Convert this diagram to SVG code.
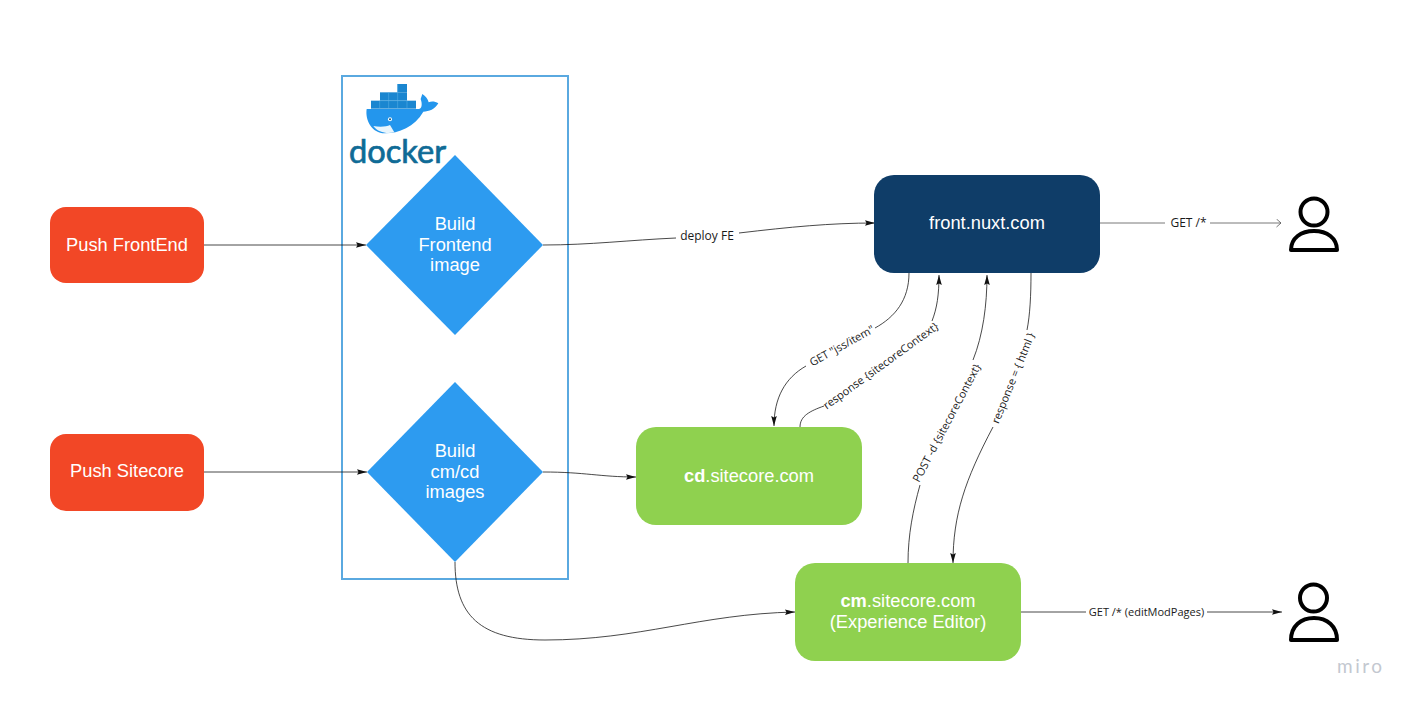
<svg xmlns="http://www.w3.org/2000/svg" width="1415" height="706" viewBox="0 0 1415 706">
<style>
.n{font-family:"Liberation Sans",Arial,sans-serif;font-size:18.300px;fill:#fff;text-anchor:middle}
.l{font-family:"Open Sans","DejaVu Sans",sans-serif;font-size:11px;fill:#1a1a1a;text-anchor:middle}
.m{font-size:12px}
.c{fill:none;stroke:#1a1a1a;stroke-width:.8}
.u{fill:none;stroke:#000;stroke-width:4}
.o{fill:#f24726}.g{fill:#8fd14f}.b{fill:#2d9bf0}
</style>
<defs>
<marker id="a" markerUnits="userSpaceOnUse" markerWidth="11" markerHeight="8" refX="10" refY="4" orient="auto"><path d="M0 1.200L10 4L0 6.800L1.500 4Z" fill="#111"/></marker>
<marker id="o" markerUnits="userSpaceOnUse" markerWidth="10" markerHeight="10" refX="5.500" refY="4" orient="auto"><path d="M1 0L5.500 4L1 8" fill="none" stroke="#555" stroke-width=".8"/></marker>
</defs>
<rect width="1415" height="706" fill="#fff"/>
<g id="docker-frame">
<rect x="342" y="76" width="226" height="503" fill="#fff" stroke="#5aa9e0" stroke-width="2"/>
</g>
<g id="docker-logo">
<g transform="translate(335 70) scale(.3333)">
<path d="M95 117L250 117C262 118 262 100 257 87L262 72C272 78 279 88 281 97C291 93 301 95 310 100C300 118 282 125 265 125C240 170 190 190 150 190C110 190 90 150 95 117Z" fill="#2396ed"/>
<path d="M115 168C135 172 155 170 165 165L178 187C155 192 130 188 115 168Z" fill="#e8f5fc"/>
<circle cx="165" cy="148" r="6" fill="#fff"/><circle cx="165" cy="148" r="3" fill="#14567a"/>
<g fill="#1a86d0">
<rect x="187" y="42" width="29" height="25"/>
<rect x="135" y="67" width="81" height="25"/>
<rect x="108" y="92" width="135" height="24"/>
</g>
<g stroke="#5fb4ea" stroke-width="1.500">
<path d="M135 92H216M161 68V116M188 42V116M216 92V116M134 92V116"/>
</g>
</g>
<text x="349" y="162.500" font-family="Lato,'Open Sans',sans-serif" font-size="32" fill="#0f6b96" stroke="#0f6b96" stroke-width=".7" textLength="97" lengthAdjust="spacingAndGlyphs">docker</text>
</g>
<g id="connectors">
<path class="c" d="M204 245H366" marker-end="url(#a)"/>
<path class="c" d="M204 472H367" marker-end="url(#a)"/>
<path class="c" d="M543 245C590 245 630 240 676 238"/>
<path class="c" d="M739 233C790 227 830 223 875 223" marker-end="url(#a)"/>
<path class="c" d="M543 472C585 472 600 477 636 477" marker-end="url(#a)"/>
<path class="c" d="M455 562C455 615 480 640 545 640C640 640 700 614 795 612" marker-end="url(#a)"/>
<path class="c" style="stroke:#555" d="M1100 223H1165"/>
<path class="c" style="stroke:#555" d="M1210 223H1281" marker-end="url(#o)"/>
<path class="c" d="M909 273C909 300 895 317 875 328"/>
<path class="c" d="M806 366C785 378 774 398 774 426" marker-end="url(#a)"/>
<path class="c" d="M800 427C800 416 810 411 824 406"/>
<path class="c" d="M932 321C937 308 939 295 939 275" marker-end="url(#a)"/>
<path class="c" d="M908 563C908 535 913 510 920 485"/>
<path class="c" d="M973 360C983 335 987 305 987 275" marker-end="url(#a)"/>
<path class="c" d="M1031 273C1031 295 1030 315 1027 330"/>
<path class="c" d="M993 427C965 480 953 515 953 563" marker-end="url(#a)"/>
<path class="c" d="M1021 612H1086"/>
<path class="c" d="M1207 612H1282" marker-end="url(#a)"/>
</g>
<g id="push-frontend"><rect class="o" x="50" y="207" width="154" height="76" rx="16"/><text class="n" x="127" y="250.500">Push FrontEnd</text></g>
<g id="push-sitecore"><rect class="o" x="50" y="434" width="154" height="77" rx="16"/><text class="n" x="127" y="477">Push Sitecore</text></g>
<g id="build-frontend"><path class="b" d="M455 155L543 245L455 335L366 245Z"/><text class="n" x="455" y="229.500">Build</text><text class="n" x="455" y="250.500">Frontend</text><text class="n" x="455" y="270.500">image</text></g>
<g id="build-cmcd"><path class="b" d="M455 382L543 472L455 562L367 472Z"/><text class="n" x="455" y="457">Build</text><text class="n" x="455" y="477.500">cm/cd</text><text class="n" x="455" y="498">images</text></g>
<g id="front-nuxt"><rect x="874" y="175" width="226" height="98" rx="20" fill="#0f3d68"/><text class="n" x="987" y="229">front.nuxt.com</text></g>
<g id="cd-sitecore"><rect class="g" x="636" y="427" width="226" height="98" rx="20"/><text class="n" x="749" y="482"><tspan font-weight="700">cd</tspan>.sitecore.com</text></g>
<g id="cm-sitecore"><rect class="g" x="795" y="563" width="226" height="98" rx="20"/><text class="n" x="908" y="607"><tspan font-weight="700">cm</tspan>.sitecore.com</text><text class="n" x="908" y="628">(Experience Editor)</text></g>
<g id="user-1"><circle class="u" cx="1314" cy="212" r="13.500"/><path class="u" d="M1291 250C1291 238 1301 231 1314 231C1327 231 1337 238 1337 250Z" stroke-linejoin="round"/></g>
<g id="user-2"><circle class="u" cx="1313.500" cy="598" r="13.500"/><path class="u" d="M1291 640C1291 626 1301 618 1314 618C1327 618 1337 626 1337 640Z" stroke-linejoin="round"/></g>
<g id="labels">
<text class="l m" x="707" y="240">deploy FE</text>
<text class="l m" x="1188.500" y="227">GET /*</text>
<text class="l" transform="translate(842 346) rotate(-29) translate(0 3.500)">GET "jss/item"</text>
<text class="l" transform="translate(881 366) rotate(-36) translate(0 3.500)">response {sitecoreContext}</text>
<text class="l" transform="translate(947 423) rotate(-62) translate(0 3.500)">POST -d {sitecoreContext}</text>
<text class="l" transform="translate(1013.500 378) rotate(-68) translate(0 3.500)">response = { html }</text>
<text class="l" x="1146.500" y="615.500">GET /* (editModPages)</text>
</g>
<text x="1337" y="673" font-family="Lato,'Open Sans',sans-serif" font-size="19" fill="#c3c8d0" letter-spacing="2.500">miro</text>
</svg>
